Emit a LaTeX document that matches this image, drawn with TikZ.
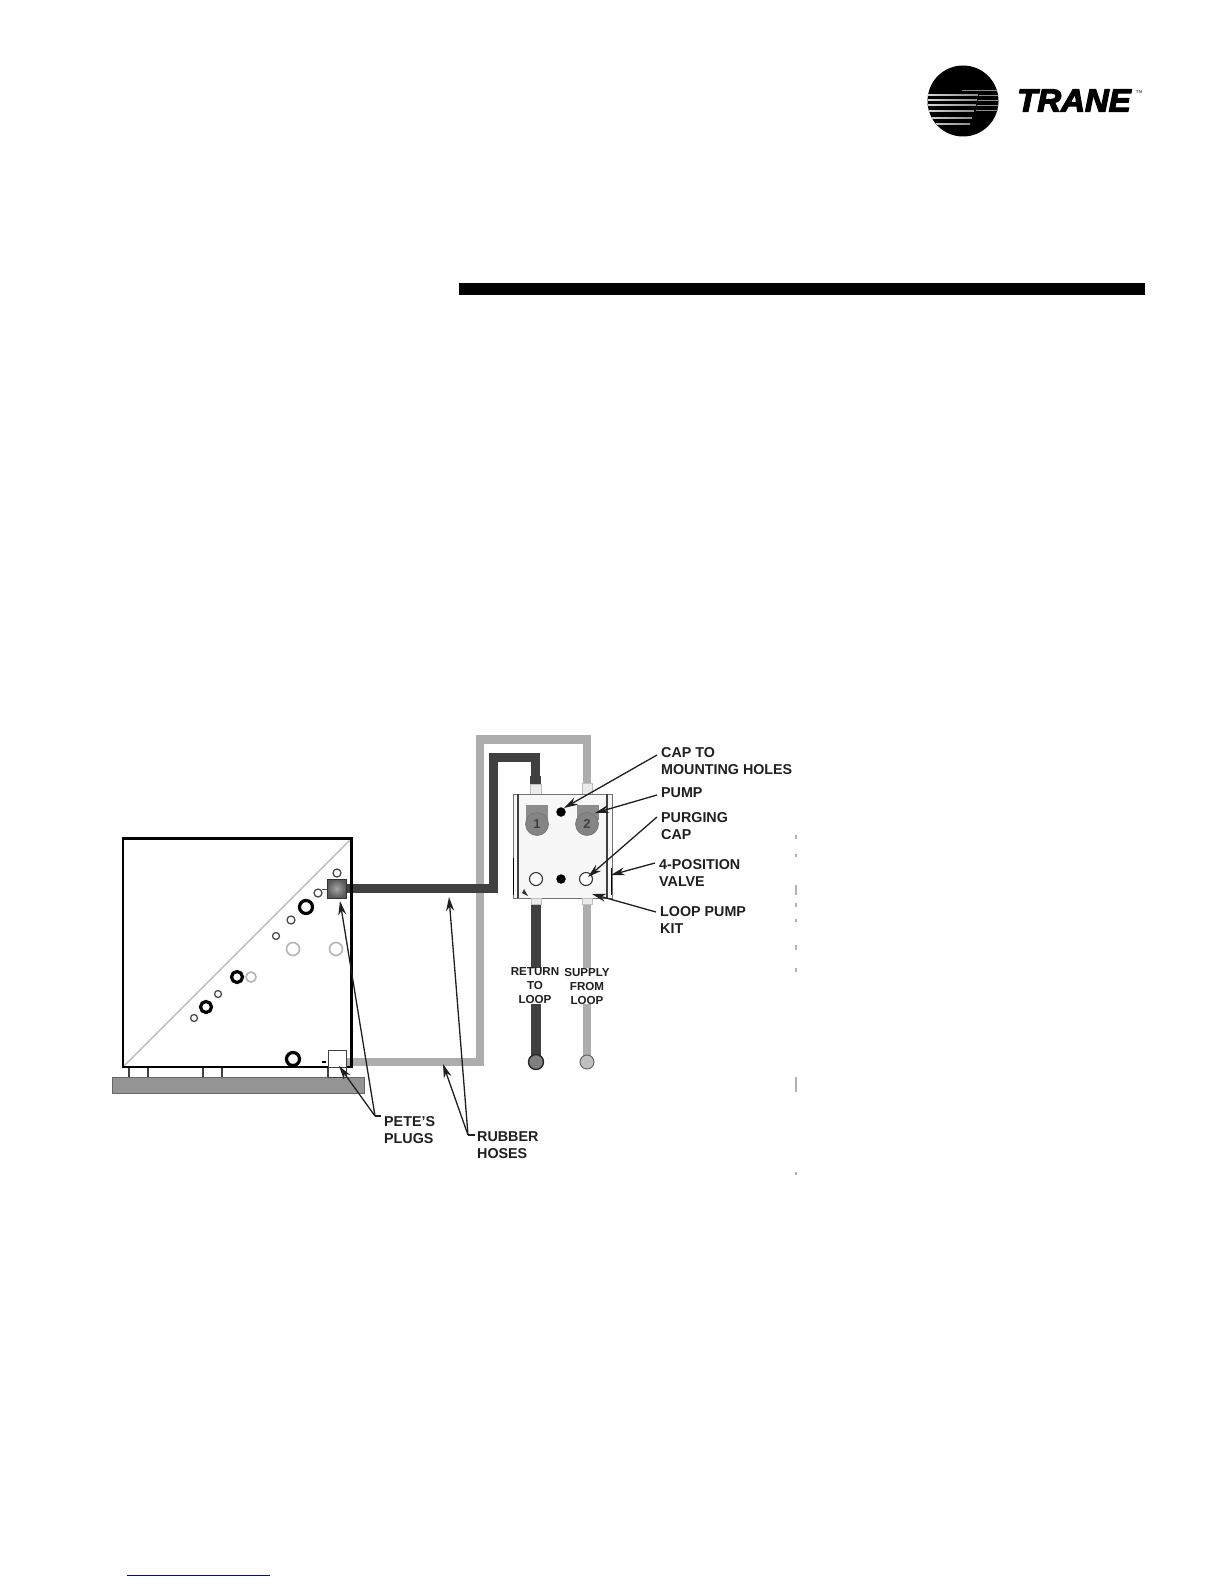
\documentclass[tikz,border=0pt]{standalone}
\usepackage{fontspec}
\setmainfont{Liberation Sans}
\newfontfamily\logofont[FakeBold=4]{Liberation Sans Bold Italic}
\usetikzlibrary{arrows.meta,calc}
\definecolor{hosedark}{gray}{0.25}
\definecolor{hoselight}{gray}{0.68}
\definecolor{rulegray}{gray}{0.72}
\definecolor{slabgray}{gray}{0.58}
\definecolor{pumpgray}{gray}{0.52}
\definecolor{footblue}{rgb}{0.05,0.05,0.55}
\tikzset{
  lbl/.style={inner sep=0pt,anchor=west,align=left,font=\bfseries\fontsize{14.3}{17.6}\selectfont,text=black!88},
  lblsmall/.style={inner sep=0pt,anchor=center,align=center,font=\bfseries\fontsize{11.6}{14}\selectfont,text=black!88,fill=white},
  leader/.style={draw=black!88,line width=1.3pt,-{Stealth[length=14pt,width=8pt]}},
  leadernotip/.style={draw=black!88,line width=1.3pt},
  hoseD/.style={draw=hosedark,line width=9pt,line join=miter},
  hoseL/.style={draw=hoselight,line width=8.5pt,line join=miter},
  thickring/.style={circle,draw=black,line width=3.2pt,fill=white,inner sep=0pt},
  thinring/.style={circle,draw=black!70,line width=1.3pt,fill=white,inner sep=0pt},
  grayring/.style={circle,draw=black!28,line width=1.7pt,fill=white,inner sep=0pt},
  pumpbody/.style={circle,fill=pumpgray,draw=black!55,line width=.6pt,minimum size=23pt,inner sep=0pt,text=black!75,font=\bfseries\fontsize{13}{13}\selectfont},
  blackdot/.style={circle,fill=black,minimum size=9.5pt,inner sep=0pt},
  capring/.style={circle,draw=black!80,line width=1.1pt,fill=white,minimum size=13pt,inner sep=0pt},
  stub/.style={draw=black!25,fill=black!8,line width=.5pt},
  speck/.style={draw=black!30,line width=1.3pt}
}
\begin{document}
\begin{tikzpicture}[x=1pt,y=-1pt]
\useasboundingbox (0,0) rectangle (1224,1584);
% logo
\fill[black] (963,101) circle (35.5);
\begin{scope}
\clip (963,101) circle (35.5);
\foreach \yy/\xe/\ww in {95/978/1.5,100/977/1.4,105/976/1.5,111/974/1.4,118/972/1.3,124/970/1.2}
  \fill[left color=white!85!black,right color=white!55!black] (925,\yy-\ww/2) rectangle (\xe,\yy+\ww/2);
\foreach \yy/\xs in {90/962,95/979,100/978,105/977,110/976}
  \fill[white!55!black] (\xs,\yy-.45) rectangle (1005,\yy+.45);
\end{scope}
\node[inner sep=0pt,anchor=west,font=\logofont\fontsize{32}{32}\selectfont,xscale=1.03] (brand) at (1017,100.5) {TRANE};
\node[inner sep=0pt,font=\bfseries\fontsize{4.5}{4.5}\selectfont,text=black!60] (tm) at (1139,92) {TM};
% header rule and footer line
\fill[black] (459,283) rectangle (1145,295);
\draw[footblue,line width=1pt] (127,1575) -- (270,1575);
% specks
\foreach \ya/\yb in {835/839,854/857,885/895,903/907,919/922,945/950,968/972,1077/1092,1172/1175}
  \draw[speck] (796,\ya) -- (796,\yb);
% hoses
\draw[hoseL] (346,1062) -- (480,1062) -- (480,739.5) -- (587,739.5) -- (587,792);
\draw[hoseD] (346,888.5) -- (493,888.5) -- (493,757) -- (535,757) -- (535,783);
\draw[hoseD,line width=10pt] (535.5,904) -- (535.5,1060);
\draw[hoseL] (587,904) -- (587,1060);
\node[circle,draw=black!85,fill=black!50,line width=1.4pt,minimum size=15pt,inner sep=0pt] (retend) at (536,1062) {};
\node[circle,draw=black!60,fill=black!25,line width=1pt,minimum size=14pt,inner sep=0pt] (supend) at (587,1062) {};
% unit
\fill[slabgray] (112,1077) rectangle (364,1093);
\draw[black!60,line width=.4pt] (112,1077) rectangle (364,1093);
\foreach \xx in {129,148,203,222,328}
  \draw[black!75,line width=1.1pt] (\xx,1067) -- (\xx,1077);
\draw[rulegray,line width=1.2pt] (123,1067) -- (351,839);
\draw[black,line width=2.2pt] (122.7,838.5) rectangle (351.5,1066.7);
\node[thinring,minimum size=8pt] (r1) at (337,873) {};
\node[thinring,minimum size=8pt] (r2) at (318,893) {};
\node[thickring,minimum size=13pt] (r3) at (306,907) {};
\node[thinring,minimum size=8pt] (r4) at (291,920) {};
\node[thinring,minimum size=7pt] (r5) at (276,936) {};
\node[grayring,minimum size=13pt] (r6) at (293,949) {};
\node[grayring,minimum size=13pt] (r7) at (336,949) {};
\node[thickring,minimum size=11pt] (r8) at (237,977) {};
\node[grayring,minimum size=10pt] (r9) at (251,977) {};
\node[thinring,minimum size=7pt] (r10) at (218,994) {};
\node[thickring,minimum size=11pt] (r11) at (206,1007) {};
\node[thinring,minimum size=7pt] (r12) at (194,1018) {};
\node[thickring,minimum size=13pt] (r13) at (293,1059) {};
% Pete's plug fittings
\draw[black!70,line width=1pt] (322,889) -- (328,889);
\shade[inner color=black!35,outer color=black!65,draw=black!80,line width=.8pt] (327,879) rectangle (346,898);
\draw[black!75,line width=.8pt,fill=white] (328,1050) rectangle (346,1077);
\draw[black!75,line width=.8pt] (328,1067) -- (346,1067);
\draw[black,line width=1.5pt] (322,1062) -- (326,1062);
% pump kit
\draw[stub] (530,784) rectangle (541,794);
\fill[hosedark] (530,776) rectangle (541,784);
\draw[stub] (582,783) rectangle (592,794);
\fill[black!3] (513,794) rectangle (612,898);
\draw[black!55,line width=.9pt] (513,794) rectangle (612,898);
\draw[black!75,line width=1.1pt] (518,794) -- (518,898);
\draw[black!75,line width=1.1pt] (607,794) -- (607,898);
\draw[black,line width=1pt] (513,858) -- (513,895);
\draw[black,line width=1pt] (611,868) -- (611,895);
\fill[black!80] (522,893) -- (528,896) -- (524,889) -- cycle;
\draw[stub] (531,898) rectangle (541,904);
\draw[stub] (582,898) rectangle (592,904);
\fill[black!45] (526,805) rectangle (548,820);
\fill[black!45] (577,805) rectangle (599,820);
\node[pumpbody] (pump1) at (537,824) {1};
\node[pumpbody] (pump2) at (587,824) {2};
\node[blackdot] (dot1) at (561,812) {};
\node[blackdot] (dot2) at (561,879) {};
\node[capring] (cap1) at (536,879) {};
\node[capring] (cap2) at (586,879) {};
% labels
\node[lbl] (capto) at (661,761) {CAP TO\\MOUNTING HOLES};
\node[lbl] (pump) at (661,793) {PUMP};
\node[lbl] (purging) at (661,826) {PURGING\\CAP};
\node[lbl] (valve) at (659,873) {4-POSITION\\VALVE};
\node[lbl] (loopkit) at (660,920) {LOOP PUMP\\KIT};
\node[lbl] (petes) at (384,1130) {PETE'S\\PLUGS};
\node[lbl] (rubber) at (477,1145) {RUBBER\\HOSES};
\node[lblsmall] (ret) at (535,986) {RETURN\\TO\\LOOP};
\node[lblsmall] (sup) at (587,986) {SUPPLY\\FROM\\LOOP};
% leaders
\coordinate (tCap) at (564,808);
\coordinate (tPump) at (595,813);
\coordinate (tPurge) at (588,877);
\coordinate (tValve) at (611,875);
\coordinate (tKit) at (592,894);
\coordinate (tPeteA) at (340,901);
\coordinate (tPeteB) at (339,1066);
\coordinate (tHoseA) at (449,897);
\coordinate (tHoseB) at (443,1064);
\coordinate (ePete) at (375,1116);
\coordinate (eHose) at (468,1135);
\draw[leader] ([xshift=-4pt,yshift=6pt]capto.west) -- (tCap);
\draw[leader] ([xshift=-4pt,yshift=-2pt]pump.west) -- (tPump);
\draw[leader] ([xshift=-4pt,yshift=9pt]purging.west) -- (tPurge);
\draw[leader] ([xshift=-4pt,yshift=10pt]valve.west) -- (tValve);
\draw[leader] ([xshift=-4pt,yshift=8pt]loopkit.west) -- (tKit);
\draw[leadernotip] ([xshift=-3pt,yshift=14pt]petes.west) -- (ePete);
\draw[leader] (ePete) -- (tPeteA);
\draw[leader] (ePete) -- (tPeteB);
\draw[leadernotip] ([xshift=-2pt,yshift=10pt]rubber.west) -- (eHose);
\draw[leader] (eHose) -- (tHoseA);
\draw[leader] (eHose) -- (tHoseB);
\end{tikzpicture}
\end{document}
